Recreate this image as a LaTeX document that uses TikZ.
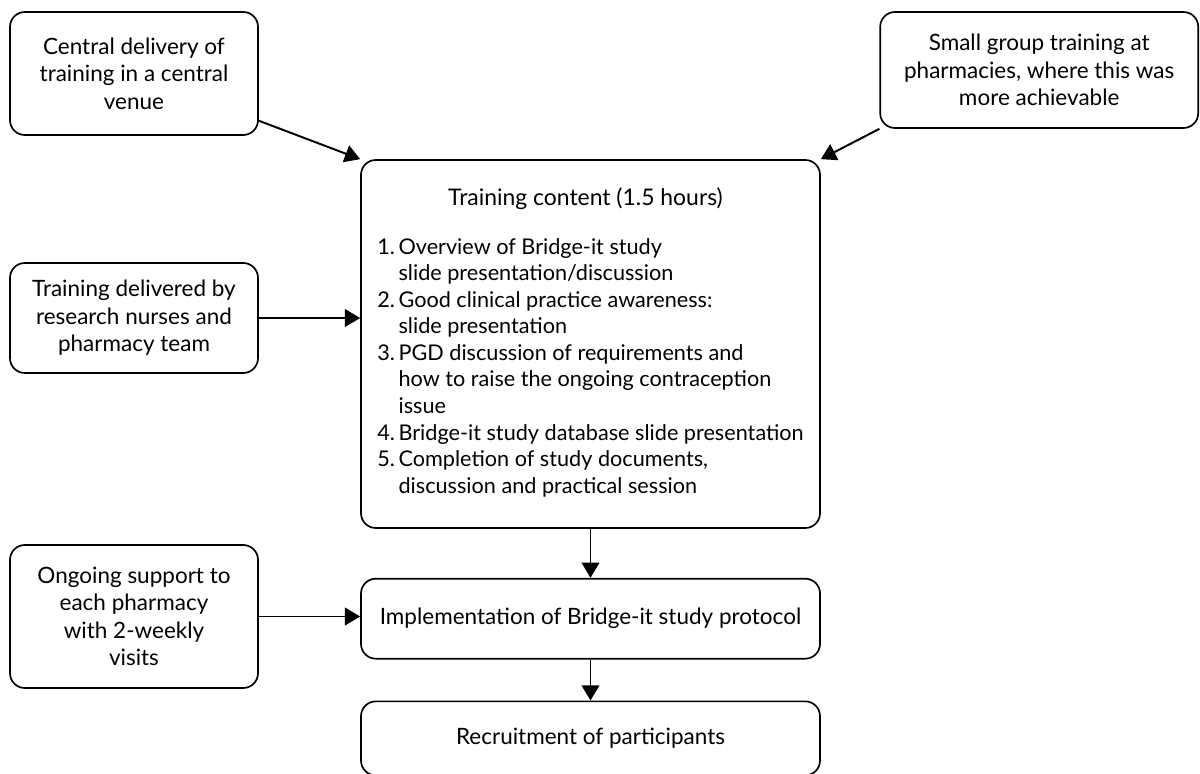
\documentclass[tikz,border=0pt]{standalone}
\usepackage{fontspec}
\setmainfont{Lato}
\usepackage{array}
\usetikzlibrary{positioning,arrows.meta}
\tikzset{box node/.style={rectangle,rounded corners=0.37cm,draw,line width=1.2pt,align=center,inner sep=2pt,
		font=\fontsize{16}{19.5}\selectfont},
	flow/.style={line width=1.4pt,-{Triangle[length=3.8mm,width=4.4mm]}},
}

\begin{document}
\begin{tikzpicture}
			\useasboundingbox (0,0) rectangle (30,-19.35);
			
			%%
			\node[box node,minimum width=11.475cm,minimum height=9.2cm] (content) at (14.7625,-8.6)
			{\fontsize{15.4}{18.9}\selectfont
				\begin{tabular}{@{}r@{\,}l@{}}
				\multicolumn{2}{c}{\fontsize{16.3}{19}\selectfont Training content (1.5 hours)\hspace*{0.25cm}}\\[0.55cm]
				1.& Overview of Bridge-it study\\
				  & slide presentation/discussion\\
				2.& Good clinical practice awareness:\\
				  & slide presentation\\
				3.& PGD discussion of requirements and\\
				  & how to raise the ongoing contraception\\
				  & issue\\
				4.& Bridge-it study database slide presentation\\
				5.& Completion of study documents,\\
				  & discussion and practical session
				\end{tabular}};
			\node[box node,minimum width=11.475cm,minimum height=2cm] (impl) [below = 1.225cm of content]
			{Implementation of Bridge-it study protocol};
			\node[box node,minimum width=11.475cm,minimum height=1.85cm] (recruit) [below = 1.025cm of impl]
			{Recruitment of participants};
			
			\node[box node,minimum width=6.2cm,minimum height=3.075cm] (central) at (3.35,-1.8375)
			{Central delivery of\\training in a central\\venue};
			\node[box node,minimum width=7.95cm,minimum height=2.9cm] (small) at (25.98,-1.75)
			{Small group training at\\pharmacies, where this was\\more achievable};
			\node[box node,minimum width=6.2cm,minimum height=2.75cm] (nurses) at (3.35,-7.95)
			{Training delivered by\\research nurses and\\pharmacy team};
			\node[box node,minimum width=6.2cm,minimum height=3.575cm] (support) at (3.35,-15.4125)
			{Ongoing support to\\each pharmacy\\with 2-weekly\\visits};
			
			\draw[flow] (central) -- (content.north west);
			\draw[flow] (small.south west) -- (content.north east);
			\draw[flow] (nurses) -- (nurses.east -| content.west);
			\draw[flow] (support) -- (support.east -| impl.west);
			\draw[flow] (content) -- (impl);
			\draw[flow] (impl) -- (recruit);
\end{tikzpicture}
\end{document}
